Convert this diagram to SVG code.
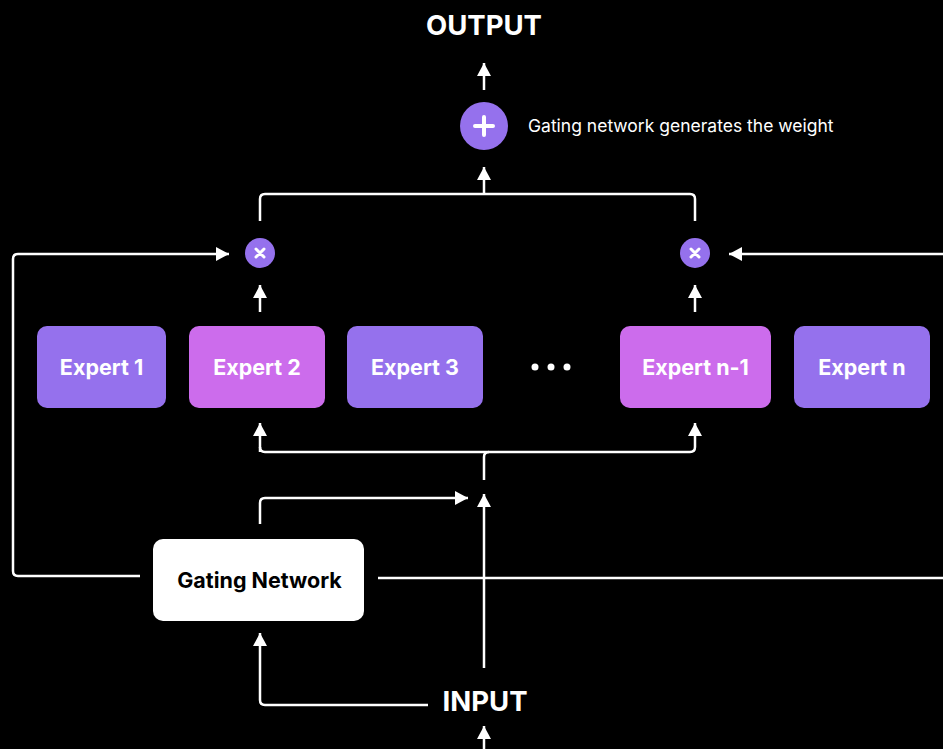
<svg xmlns="http://www.w3.org/2000/svg" width="943" height="749" viewBox="0 0 943 749">
<style>
.bg{fill:#000}
.ln{fill:none;stroke:#fff;stroke-width:2.5}
.ar{marker-end:url(#ah)}
.purple{fill:#9571ED}
.pink{fill:#CC6CEC}
.et{font-family:Inter,"Liberation Sans",sans-serif;font-weight:700;font-size:21.5px;fill:#fff;text-anchor:middle}
.big{font-family:Inter,"Liberation Sans",sans-serif;font-weight:700;font-size:27.5px;fill:#fff;text-anchor:middle}
.note{font-family:Inter,"Liberation Sans",sans-serif;font-size:17.5px;fill:#fff}
.sym{stroke:#fff;stroke-linecap:round;fill:none}
</style>
<defs>
<marker id="ah" markerUnits="userSpaceOnUse" markerWidth="16" markerHeight="16" refX="13" refY="7" orient="auto">
<path d="M0,0 L13,7 L0,14 Z" fill="#fff"/>
</marker>
</defs>
<rect class="bg" width="943" height="749"/>
<g id="connectors">
<path class="ln ar" d="M484,90 V63"/>
<path class="ln ar" d="M484,194 V167"/>
<path class="ln" d="M260,221 V199 Q260,194 265,194 H690 Q695,194 695,199 V221"/>
<path class="ln ar" d="M260,312 V285"/>
<path class="ln ar" d="M695,312 V285"/>
<path class="ln ar" d="M140,576 H18 Q13,576 13,571 V259 Q13,254 18,254 H229"/>
<path class="ln ar" d="M943,254 H729"/>
<path class="ln ar" d="M260,447 Q260,452 265,452 H690 Q695,452 695,447 V423"/>
<path class="ln ar" d="M260,452 V423"/>
<path class="ln" d="M484,480 V457 Q484,452 489,452"/>
<path class="ln ar" d="M260,524 V503 Q260,498 265,498 H468"/>
<path class="ln ar" d="M484,668 V494"/>
<path class="ln" d="M378,578 H943"/>
<path class="ln ar" d="M428,705 H265 Q260,705 260,700 V633"/>
<path class="ln ar" d="M484,749 V726"/>
</g>
<g id="output"><text class="big" x="484" y="35">OUTPUT</text></g>
<g id="sum">
<circle class="purple" cx="484" cy="126" r="24"/>
<path class="sym" stroke-width="4" d="M475,126 H493 M484,117 V135"/>
<text class="note" x="528" y="132">Gating network generates the weight</text>
</g>
<g id="mul1">
<circle class="purple" cx="260" cy="253" r="15"/>
<path class="sym" stroke-width="3" d="M256,249 L264,257 M264,249 L256,257"/>
</g>
<g id="mul2">
<circle class="purple" cx="695" cy="253" r="15"/>
<path class="sym" stroke-width="3" d="M691,249 L699,257 M699,249 L691,257"/>
</g>
<g id="expert1"><rect class="purple" x="37" y="326" width="129" height="82" rx="10"/><text class="et" x="101.5" y="375">Expert 1</text></g>
<g id="expert2"><rect class="pink" x="189" y="326" width="136" height="82" rx="10"/><text class="et" x="257" y="375">Expert 2</text></g>
<g id="expert3"><rect class="purple" x="347" y="326" width="136" height="82" rx="10"/><text class="et" x="415" y="375">Expert 3</text></g>
<g id="dots"><circle cx="535" cy="367" r="3.5" fill="#fff"/><circle cx="551" cy="367" r="3.5" fill="#fff"/><circle cx="567" cy="367" r="3.5" fill="#fff"/></g>
<g id="expertn1"><rect class="pink" x="620" y="326" width="151" height="82" rx="10"/><text class="et" x="695.5" y="375">Expert n-1</text></g>
<g id="expertn"><rect class="purple" x="794" y="326" width="136" height="82" rx="10"/><text class="et" x="862" y="375">Expert n</text></g>
<g id="gating"><rect x="153" y="539" width="211" height="82" rx="10" fill="#fff"/><text class="et" x="259.5" y="588" style="fill:#000">Gating Network</text></g>
<g id="input"><text class="big" x="485" y="711">INPUT</text></g>
</svg>
